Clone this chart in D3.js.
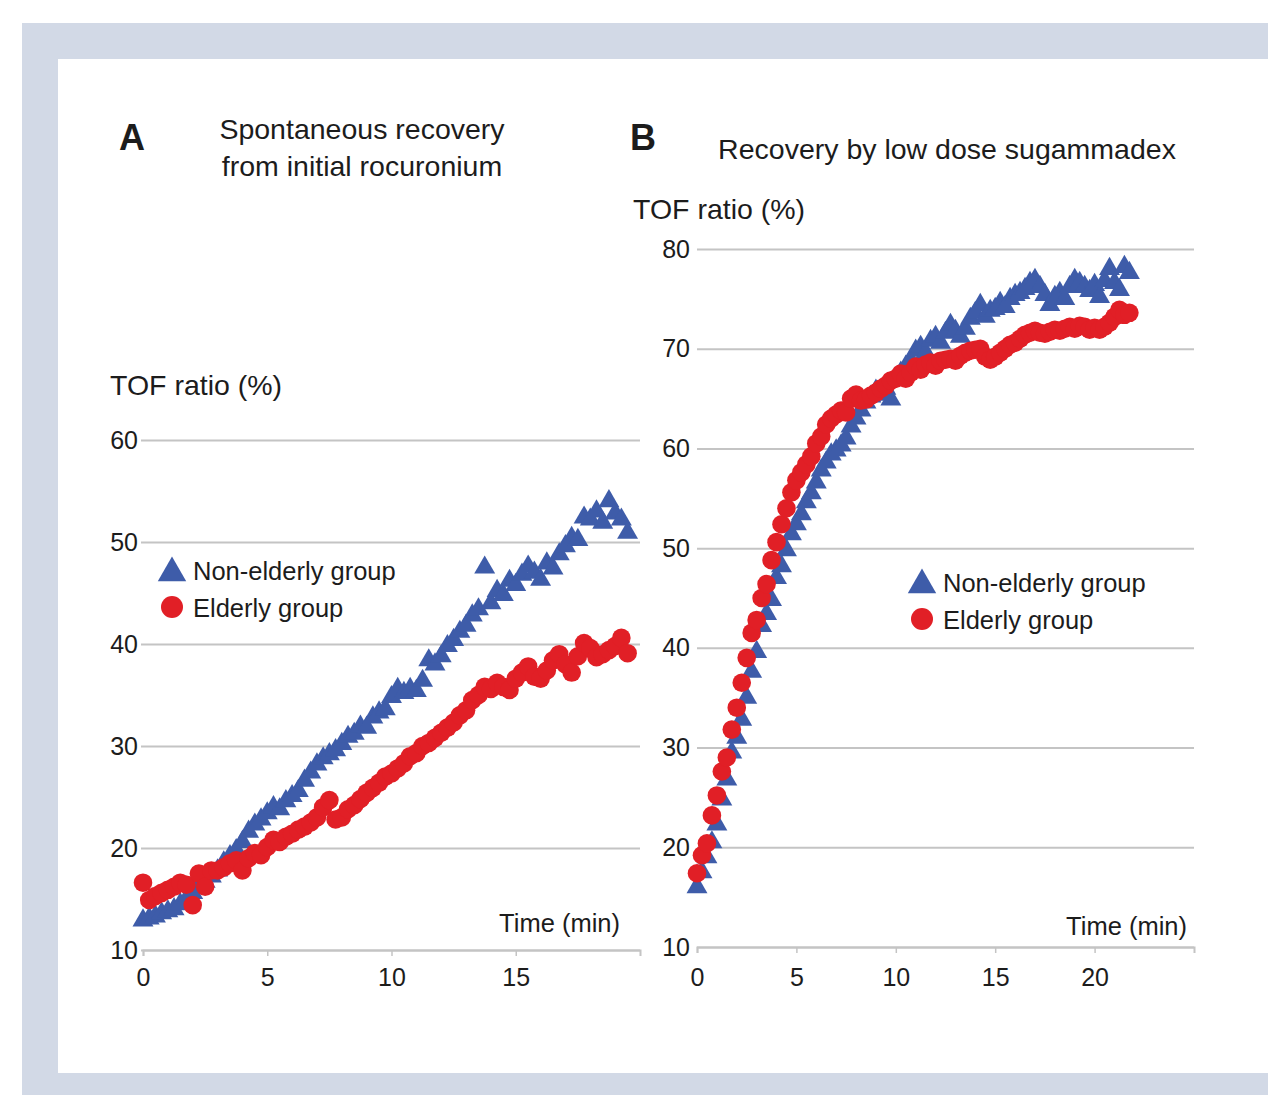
<!DOCTYPE html>
<html><head><meta charset="utf-8">
<script src="https://cdn.jsdelivr.net/npm/d3@7"></script>
<style>
body{margin:0;background:#fff}
svg{display:block}
text{font-family:"Liberation Sans",Arial,Helvetica,sans-serif;fill:#1c1c1c}
</style>
</head><body><svg id="c" width="1268" height="1095"></svg>
<script>
// ---- Data (time in minutes, TOF ratio in %) ----
const timeA=[0,0.25,0.5,0.75,1,1.25,1.5,1.75,2,2.25,2.5,2.75,3,3.25,3.5,3.75,4,4.25,4.5,4.75,5,5.25,5.5,5.75,6,6.25,6.5,6.75,7,7.25,7.5,7.75,8,8.25,8.5,8.75,9,9.25,9.5,9.75,10,10.25,10.5,10.75,11,11.25,11.5,11.75,12,12.25,12.5,12.75,13,13.25,13.5,13.75,14,14.25,14.5,14.75,15,15.25,15.5,15.75,16,16.25,16.5,16.75,17,17.25,17.5,17.75,18,18.25,18.5,18.75,19,19.25,19.5];
const nonElderlyA=[12.9,13.1,13.3,13.6,13.8,14.0,14.5,15.0,15.6,16.2,
16.7,17.2,17.8,18.6,19.2,19.8,20.6,21.6,22.3,22.8,
23.4,24.0,23.8,24.6,25.1,25.6,26.6,27.4,28.2,28.8,
29.2,29.6,30.2,30.9,31.2,31.9,31.8,32.8,33.3,33.6,
34.8,35.6,35.2,35.6,35.4,36.4,38.4,38.0,38.8,39.8,
40.4,41.2,41.8,42.8,43.4,47.5,44.0,45.2,44.8,46.2,
45.8,46.8,47.6,47.0,46.3,47.9,47.4,48.8,49.6,50.4,
50.2,52.4,52.2,53.0,51.9,54.0,52.8,52.2,50.9];
const elderlyA=[16.6,14.9,15.3,15.6,15.9,16.2,16.6,16.4,14.4,17.5,
16.2,17.8,17.8,18.1,18.5,18.8,17.8,19.0,19.5,19.3,
20.1,20.8,20.6,21.1,21.4,21.8,22.1,22.5,23.0,24.0,
24.7,22.8,23.0,23.8,24.2,24.8,25.4,25.9,26.4,27.0,
27.3,27.8,28.3,29.0,29.3,30.0,30.3,30.8,31.3,31.8,
32.3,33.0,33.5,34.5,35.0,35.8,35.6,36.2,35.8,35.5,
36.6,37.2,37.8,36.8,36.6,37.4,38.4,39.0,38.0,37.2,
38.8,40.1,39.6,38.7,39.0,39.4,39.8,40.6,39.1];

const timeB=[0,0.25,0.5,0.75,1,1.25,1.5,1.75,2,2.25,2.5,2.75,3,3.25,3.5,3.75,4,4.25,4.5,4.75,5,5.25,5.5,5.75,6,6.25,6.5,6.75,7,7.25,7.5,7.75,8,8.25,8.5,8.75,9,9.25,9.5,9.75,10,10.25,10.5,10.75,11,11.25,11.5,11.75,12,12.25,12.5,12.75,13,13.25,13.5,13.75,14,14.25,14.5,14.75,15,15.25,15.5,15.75,16,16.25,16.5,16.75,17,17.25,17.5,17.75,18,18.25,18.5,18.75,19,19.25,19.5,19.75,20,20.25,20.5,20.75,21,21.25,21.5,21.75];
const nonElderlyB=[16.0,17.5,19.0,20.5,22.3,24.8,26.8,29.5,31.0,32.8,
35.0,37.6,39.6,42.2,43.4,44.8,47.0,48.2,49.8,51.4,
52.4,53.4,54.6,55.5,56.6,57.8,58.6,59.4,59.8,60.3,
61.0,62.2,63.0,63.8,64.6,65.2,65.8,65.4,66.0,64.9,
67.0,67.6,68.2,68.8,69.8,70.2,69.6,70.8,71.2,70.6,
71.6,72.4,71.8,71.2,72.0,73.0,73.6,74.4,73.2,73.8,
74.0,74.6,74.2,75.0,75.4,75.6,76.0,76.6,76.9,76.2,
75.4,74.4,75.2,75.6,75.0,76.2,76.9,76.6,76.2,75.8,
76.4,75.2,76.8,78.0,76.6,75.9,78.2,77.6];
const elderlyB=[17.4,19.2,20.4,23.2,25.2,27.6,29.0,31.8,34.0,36.5,
39.0,41.5,42.8,45.0,46.4,48.8,50.6,52.4,54.0,55.6,
56.8,57.6,58.4,59.2,60.5,61.2,62.4,63.0,63.4,63.8,
63.6,65.0,65.4,64.8,64.9,65.3,65.6,66.0,66.3,66.8,
67.0,67.5,67.0,67.6,68.2,67.9,68.4,68.6,68.3,68.8,
68.9,69.0,68.8,69.3,69.6,69.8,69.9,70.0,69.2,68.9,
69.2,69.6,70.0,70.4,70.6,71.0,71.4,71.6,71.8,71.6,
71.5,71.7,71.9,71.8,72.0,72.2,72.0,72.3,72.2,71.9,
72.1,71.9,72.2,72.6,73.2,73.9,73.4,73.6];

const yTicksA=[10,20,30,40,50,60];
const xTicksA=[0,5,10,15];
const yTicksB=[10,20,30,40,50,60,70,80];
const xTicksB=[0,5,10,15,20];
const seriesNames=["Non-elderly group","Elderly group"];
const panelLetters=["A","B"];
const titleA=["Spontaneous recovery","from initial rocuronium"];
const titleB=["Recovery by low dose sugammadex"];
const yLabel="TOF ratio (%)";
const xLabel="Time (min)";

// ---- Style ----
const BLUE="#3e5ca9", RED="#e11f26", GRID="#c4c4c4";
const svg=d3.select("#c");

// frame
svg.append("rect").attr("x",22).attr("y",23).attr("width",1246).attr("height",1072).attr("fill","#d2d9e6");
svg.append("rect").attr("x",58).attr("y",59).attr("width",1210).attr("height",1014).attr("fill","#fff");

const triSym=d3.symbol().type(d3.symbolTriangle).size(190);
const triLeg=d3.symbol().type(d3.symbolTriangle).size(350);

function panel(cfg){
  const g=svg.append("g");
  const x=d3.scaleLinear().domain(cfg.xDomain).range(cfg.xRange);
  const y=d3.scaleLinear().domain(cfg.yDomain).range(cfg.yRange);
  // gridlines + y labels
  const ya=g.append("g").attr("transform",`translate(${cfg.gridX0},0)`)
    .call(d3.axisLeft(y).tickValues(cfg.yTicks).tickSize(-(cfg.xRange[1]-cfg.gridX0)).tickPadding(cfg.yPad));
  ya.select(".domain").remove();
  ya.selectAll("line").attr("stroke",GRID).attr("stroke-width",2);
  ya.selectAll("text").attr("font-size",25).attr("fill","#1c1c1c").style("font-family",'"Liberation Sans",Arial,sans-serif');
  // x axis
  const xa=g.append("g").attr("transform",`translate(0,${cfg.yRange[0]})`)
    .call(d3.axisBottom(x).tickValues(cfg.xTicks).tickSize(6).tickSizeOuter(6).tickPadding(cfg.xPad));
  xa.select(".domain").attr("stroke",GRID).attr("stroke-width",2);
  xa.selectAll("line").attr("stroke",GRID).attr("stroke-width",1.5);
  xa.selectAll("text").attr("font-size",25).attr("fill","#1c1c1c").style("font-family",'"Liberation Sans",Arial,sans-serif');
  // triangles (non-elderly)
  g.append("g").selectAll("path").data(cfg.time.map((t,i)=>[t,cfg.ne[i]])).join("path")
    .attr("d",triSym).attr("fill",BLUE)
    .attr("transform",d=>`translate(${x(d[0])},${y(d[1])})`);
  // circles (elderly)
  g.append("g").selectAll("circle").data(cfg.time.map((t,i)=>[t,cfg.el[i]])).join("circle")
    .attr("cx",d=>x(d[0])).attr("cy",d=>y(d[1])).attr("r",9.3).attr("fill",RED);
  // legend
  const lg=g.append("g");
  lg.append("path").attr("d",triLeg).attr("fill",BLUE).attr("transform",`translate(${cfg.leg[0]},${cfg.leg[1]+4})`);
  lg.append("circle").attr("cx",cfg.leg[0]).attr("cy",cfg.leg[1]+38).attr("r",11).attr("fill",RED);
  lg.append("text").attr("x",cfg.leg[0]+21).attr("y",cfg.leg[1]+11).attr("font-size",25.5).text(seriesNames[0]);
  lg.append("text").attr("x",cfg.leg[0]+21).attr("y",cfg.leg[1]+48).attr("font-size",25.5).text(seriesNames[1]);
  // axis titles
  g.append("text").attr("x",cfg.yLab[0]).attr("y",cfg.yLab[1]).attr("font-size",28.5).text(yLabel);
  g.append("text").attr("x",cfg.xLab[0]).attr("y",cfg.xLab[1]).attr("font-size",25.5).attr("text-anchor","end").text(xLabel);
  // panel letter
  g.append("text").attr("x",cfg.letter[0]).attr("y",cfg.letter[1]).attr("font-size",36).attr("font-weight","bold").text(cfg.letterText);
  // title
  cfg.title.forEach((s,i)=>{
    g.append("text").attr("x",cfg.titlePos[0]).attr("y",cfg.titlePos[1]+i*37).attr("font-size",28.5)
      .attr("text-anchor","middle").text(s);
  });
}

panel({xDomain:[0,20],xRange:[143,640],yDomain:[10,60],yRange:[950,440],gridX0:141,
  yTicks:yTicksA,xTicks:xTicksA,yPad:3,xPad:12,time:timeA,ne:nonElderlyA,el:elderlyA,
  leg:[172,569],yLab:[110,395],xLab:[620,932],letter:[119,150],letterText:panelLetters[0],
  title:titleA,titlePos:[362,139]});
panel({xDomain:[0,25],xRange:[697,1194],yDomain:[10,80],yRange:[947,249],gridX0:697,
  yTicks:yTicksB,xTicks:xTicksB,yPad:7,xPad:15,time:timeB,ne:nonElderlyB,el:elderlyB,
  leg:[922,581],yLab:[633,219],xLab:[1187,935],letter:[630,150],letterText:panelLetters[1],
  title:titleB,titlePos:[947,159]});
</script>
</body></html>
